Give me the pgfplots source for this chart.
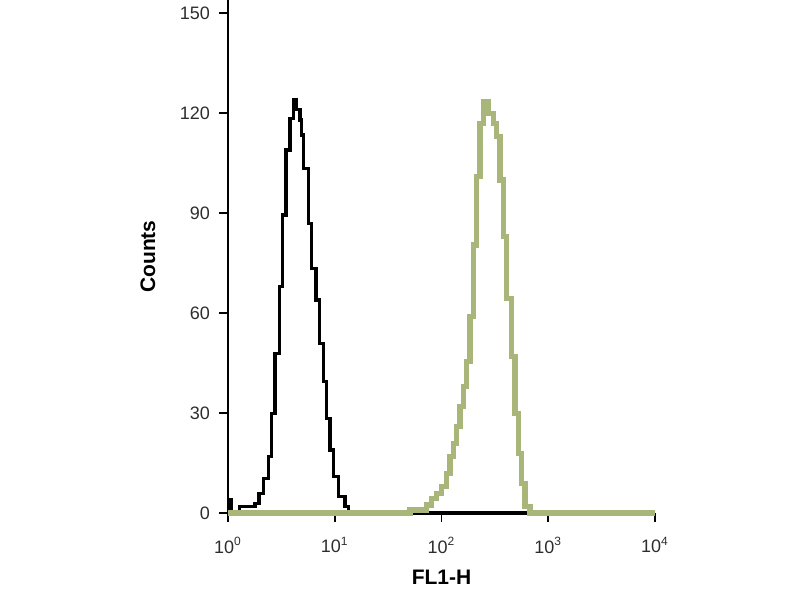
\documentclass[border=0pt]{standalone}
\usepackage{fontspec}
\setmainfont{Liberation Sans}
\usepackage{pgfplots}
\pgfplotsset{compat=1.18}
\definecolor{olivegreen}{RGB}{168,182,122}
\definecolor{ticktxt}{RGB}{45,45,45}
\begin{document}
\begin{tikzpicture}
\path[use as bounding box] (-114pt,-43.5pt) rectangle (286pt,256.5pt);
\begin{axis}[
  at={(0,0)}, anchor=south west,
  scale only axis,
  width=213.5pt, height=256.5pt,
  xmode=log, xmin=1, xmax=10000,
  ymin=0, ymax=153.9,
  axis x line=bottom, axis y line=left,
  axis line style={-, line width=1pt, black},
  xtick={1,10,100,1000,10000},
  xticklabels={10\textsuperscript{0},10\textsuperscript{1},10\textsuperscript{2},10\textsuperscript{3},10\textsuperscript{4}},
  ytick={0,30,60,90,120,150},
  xminorticks=false, yminorticks=false,
  tick align=outside,
  major tick length=4.5pt,
  tick style={line width=0.8pt, black},
  /pgf/number format/assume math mode=true,
  ticklabel style={font=\fontsize{9}{10}\selectfont, text=ticktxt},
  xticklabel style={yshift=-4pt},
  yticklabel style={xshift=-1pt},
  xlabel={\textbf{FL1-H}},
  ylabel={\textbf{Counts}},
  xlabel style={at={(axis description cs:0.5,0)}, anchor=center, yshift=-32pt, font=\fontsize{10.5}{12}\selectfont},
  ylabel style={at={(axis description cs:0,0.5)}, anchor=center, rotate=0, yshift=40pt, font=\fontsize{10.5}{12}\selectfont},
  clip=false,
]
\addplot[const plot mark left, black, line width=1.7pt] coordinates {
(1,4) (1.07,0) (1.28,1.9) (1.79,2.9) (1.95,5.9) (2.14,10.4) (2.39,16.9)
(2.57,29.9) (2.76,47.9) (3.03,67.9) (3.25,89.4) (3.49,108.9) (3.81,118.4)
(4.09,123.9) (4.4,121) (4.73,117.9) (4.9,113.4) (5.08,103.4) (5.66,86.9)
(6.08,73.4) (6.67,63.9) (7.17,50.9) (7.82,39.4) (8.40,28.4) (9.03,18.9)
(9.70,10.9) (10.8,4.9) (12.5,1.9) (13.4,0) (10000,0)
};
\addplot[const plot mark left, olivegreen, line width=2.6pt] coordinates {
(1,0) (50.7,0.9) (72.7,2.4) (80.9,4.4) (90.1,5.9) (100.4,7.9) (111.9,11.9)
(120.2,16.9) (129.2,20.9) (138.9,25.9) (149.0,31.9) (160.1,37.9) (172.2,45.4)
(184.9,58.9) (198.7,80.4) (213.6,100.9) (229.5,116.9) (246.6,123.4)
(274.4,119.9) (305.7,116.9) (328.5,112.9) (353.0,99.9) (379.3,82.9)
(408.0,64.4) (454.6,46.9) (488.5,29.9) (524.8,17.9) (563.9,8.9)
(605.9,1.9) (674.8,0) (10000,0)
};
\end{axis}
\end{tikzpicture}
\end{document}
